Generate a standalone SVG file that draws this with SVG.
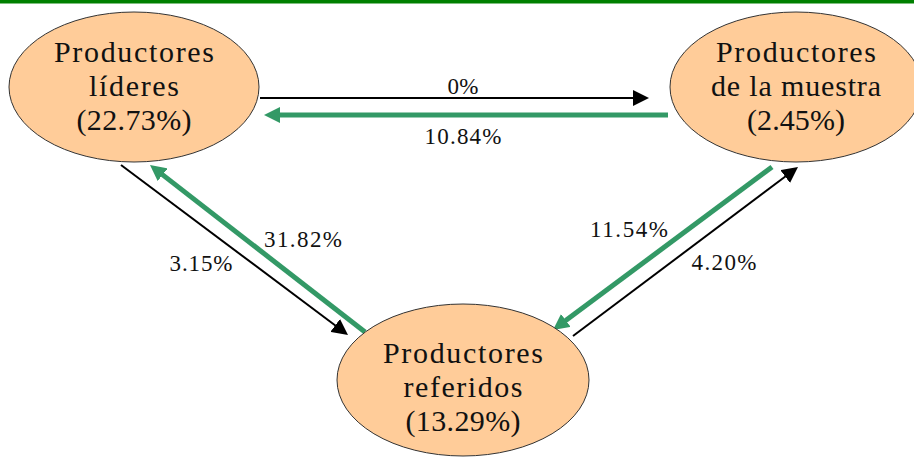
<svg xmlns="http://www.w3.org/2000/svg" width="914" height="459" viewBox="0 0 914 459">
  <style>
    .node ellipse { fill: #FFCC99; stroke: #333333; stroke-width: 1; }
    .node text { font-family: "Liberation Serif", "DejaVu Serif", serif; font-size: 30px; fill: #111111; text-anchor: middle; }
    .lbl { font-family: "Liberation Serif", "DejaVu Serif", serif; font-size: 23px; fill: #111111; text-anchor: middle; }
    .flow-b { stroke: #000000; stroke-width: 2; fill: none; marker-end: url(#headB); }
    .flow-g { stroke: #339966; stroke-width: 5; fill: none; marker-end: url(#headG); }
  </style>
  <defs>
    <marker id="headB" markerUnits="userSpaceOnUse" markerWidth="16" markerHeight="16" refX="6" refY="8" orient="auto">
      <path d="M0,0 L16,8 L0,16 z" fill="#000000"/>
    </marker>
    <marker id="headG" markerUnits="userSpaceOnUse" markerWidth="16" markerHeight="16" refX="6" refY="8" orient="auto">
      <path d="M0,0 L16,8 L0,16 z" fill="#339966"/>
    </marker>
  </defs>

  <rect x="0" y="0" width="914" height="3.5" fill="#008000"/>

  <g id="connectors">
    <line class="flow-b" x1="260" y1="98" x2="639" y2="98"/>
    <line class="flow-g" x1="668" y1="115" x2="274" y2="115"/>
    <line class="flow-b" x1="121" y1="165" x2="340" y2="329"/>
    <line class="flow-g" x1="365" y1="332" x2="157.9" y2="171.1"/>
    <line class="flow-g" x1="772" y1="167" x2="561" y2="324"/>
    <line class="flow-b" x1="573" y1="336" x2="790" y2="173"/>
    <text class="lbl" x="463" y="94" textLength="31">0%</text>
    <text class="lbl" x="463" y="144" textLength="77">10.84%</text>
    <text class="lbl" x="303" y="247" textLength="78">31.82%</text>
    <text class="lbl" x="201" y="271" textLength="63">3.15%</text>
    <text class="lbl" x="629" y="237" textLength="78">11.54%</text>
    <text class="lbl" x="724" y="270" textLength="65">4.20%</text>
  </g>

  <g id="lideres" class="node">
    <ellipse cx="134" cy="87" rx="125" ry="75"/>
    <text x="134" y="62" textLength="160">Productores</text>
    <text x="134" y="96" textLength="90">líderes</text>
    <text x="134" y="130" textLength="115">(22.73%)</text>
  </g>

  <g id="muestra" class="node">
    <ellipse cx="796" cy="87" rx="126" ry="75"/>
    <text x="796" y="62" textLength="160">Productores</text>
    <text x="796" y="96" textLength="170">de la muestra</text>
    <text x="796" y="130" textLength="98">(2.45%)</text>
  </g>

  <g id="referidos" class="node">
    <ellipse cx="463" cy="380" rx="126" ry="76"/>
    <text x="463" y="363" textLength="160">Productores</text>
    <text x="463" y="397" textLength="119">referidos</text>
    <text x="463" y="431" textLength="115">(13.29%)</text>
  </g>
</svg>
